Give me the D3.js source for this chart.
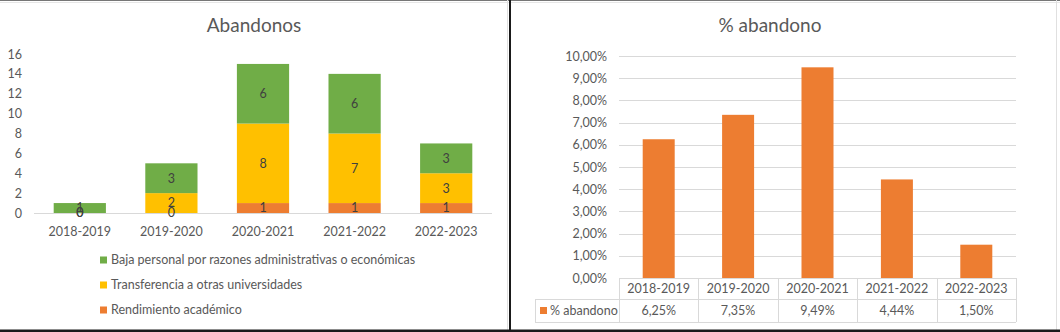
<!DOCTYPE html>
<html><head><meta charset="utf-8">
<script src="https://cdn.jsdelivr.net/npm/d3@7"></script>
<style>
html,body{margin:0;padding:0;background:#fff;}
svg{display:block;font-family:Lato,"Open Sans",sans-serif;}
</style></head>
<body>
<svg id="c" width="1060" height="332"></svg>
<script>
const categories = ["2018-2019","2019-2020","2020-2021","2021-2022","2022-2023"];
const rendimiento = [0,0,1,1,1];
const transferencia = [0,2,8,7,3];
const baja = [1,3,6,6,3];
const seriesNames = ["Rendimiento académico","Transferencia a otras universidades","Baja personal por razones administrativas o económicas"];
const legendOrder = ["Baja personal por razones administrativas o económicas","Transferencia a otras universidades","Rendimiento académico"];
const leftTicks = [0,2,4,6,8,10,12,14,16];
const pctValues = [0.0625,0.0735,0.0949,0.0444,0.0150];
const pctLabels = ["6,25%","7,35%","9,49%","4,44%","1,50%"];
const pctTicks = [0,0.01,0.02,0.03,0.04,0.05,0.06,0.07,0.08,0.09,0.10];

const colors = {"Rendimiento académico":"#ED7D31","Transferencia a otras universidades":"#FFC000","Baja personal por razones administrativas o económicas":"#70AD47"};
const txt = "#595959", lbl = "#404040", grid = "#d9d9d9";
const svg = d3.select("#c");

// frame
svg.append("rect").attr("x",0).attr("y",0).attr("width",1060).attr("height",332).attr("fill","#fff");
svg.append("line").attr("x1",0).attr("x2",1060).attr("y1",0.5).attr("y2",0.5).attr("stroke","#777").attr("stroke-width",1);
svg.append("line").attr("x1",0).attr("x2",1060).attr("y1",2.5).attr("y2",2.5).attr("stroke","#e6e6e6").attr("stroke-width",1);
svg.append("line").attr("x1",507.5).attr("x2",507.5).attr("y1",0).attr("y2",332).attr("stroke","#e0e0e0");
svg.append("line").attr("x1",1056.5).attr("x2",1056.5).attr("y1",0).attr("y2",330).attr("stroke","#e0e0e0");
svg.append("rect").attr("x",509).attr("y",0).attr("width",2).attr("height",332).attr("fill","#1a1a1a");
svg.append("rect").attr("x",0).attr("y",329.5).attr("width",1060).attr("height",2.5).attr("fill","#1a1a1a");

// ===== Left chart =====
const L = svg.append("g");
L.append("text").attr("x",254).attr("y",32).attr("text-anchor","middle").attr("font-size",19).attr("fill",txt).text("Abandonos");
const x1 = d3.scaleBand().domain(categories).range([34,492]).paddingInner(0.43).paddingOuter(0.215);
const y1 = d3.scaleLinear().domain([0,16]).range([213,54]);
const yAx1 = d3.axisLeft(y1).tickValues(leftTicks).tickSize(0).tickPadding(0);
const gy1 = L.append("g").attr("transform","translate(22,0)").call(yAx1);
gy1.select(".domain").remove();
gy1.selectAll("text").attr("font-size",12.5).attr("fill",txt).attr("font-family","Lato,'Open Sans',sans-serif");

const rows = categories.map((c,i)=>({cat:c,"Rendimiento académico":rendimiento[i],"Transferencia a otras universidades":transferencia[i],"Baja personal por razones administrativas o económicas":baja[i]}));
const stack = d3.stack().keys(seriesNames)(rows);
stack.forEach(s=>{
  L.append("g").selectAll("rect").data(s).join("rect")
    .attr("x",d=>x1(d.data.cat)).attr("width",x1.bandwidth())
    .attr("y",d=>y1(d[1])).attr("height",d=>y1(d[0])-y1(d[1]))
    .attr("fill",colors[s.key]);
});
L.append("line").attr("x1",34).attr("x2",492).attr("y1",213.5).attr("y2",213.5).attr("stroke",grid);
stack.forEach(s=>{
  L.append("g").selectAll("text").data(s).join("text")
    .attr("x",d=>x1(d.data.cat)+x1.bandwidth()/2)
    .attr("y",d=>y1((d[0]+d[1])/2))
    .attr("dy","0.35em").attr("text-anchor","middle").attr("font-size",12.5).attr("fill",lbl)
    .text(d=>d.data[s.key]);
});
const xAx1 = d3.axisBottom(x1).tickSize(0).tickPadding(0);
const gx1 = L.append("g").attr("transform","translate(0,227)").call(xAx1);
gx1.select(".domain").remove();
gx1.selectAll("text").attr("font-size",12.5).attr("fill",txt).attr("font-family","Lato,'Open Sans',sans-serif");

const leg = L.append("g");
legendOrder.forEach((n,i)=>{
  const cy = 260 + i*25;
  leg.append("rect").attr("x",100).attr("y",cy-3.5).attr("width",7).attr("height",7).attr("fill",colors[n]);
  leg.append("text").attr("x",111).attr("y",cy).attr("dy","0.35em").attr("font-size",12.5).attr("fill",txt).text(n);
});

// ===== Right chart =====
const R = svg.append("g");
R.append("text").attr("x",770).attr("y",32).attr("text-anchor","middle").attr("font-size",19).attr("fill",txt).text("% abandono");
const x2 = d3.scaleBand().domain(categories).range([619,1016]).paddingInner(0.597).paddingOuter(0.2985);
const y2 = d3.scaleLinear().domain([0,0.10]).range([278,56]);
const fmt = v => d3.format(".2f")(v*100).replace(".",",")+"%";
R.append("g").selectAll("line").data(pctTicks).join("line")
  .attr("x1",619).attr("x2",1016).attr("y1",d=>Math.round(y2(d))+0.5).attr("y2",d=>Math.round(y2(d))+0.5)
  .attr("stroke",grid);
const gy2 = R.append("g").attr("transform","translate(607,0)").call(d3.axisLeft(y2).tickValues(pctTicks).tickFormat(fmt).tickSize(0).tickPadding(0));
gy2.select(".domain").remove();
gy2.selectAll("text").attr("font-size",12.5).attr("fill",txt).attr("font-family","Lato,'Open Sans',sans-serif");
R.append("g").selectAll("rect").data(pctValues).join("rect")
  .attr("x",(d,i)=>x2(categories[i])).attr("width",x2.bandwidth())
  .attr("y",d=>y2(d)).attr("height",d=>y2(0)-y2(d)).attr("fill","#ED7D31");

// data table
const step = x2.step();
const tb = R.append("g");
const t0 = 278, t1 = 299.5, t2 = 322;
for(let i=0;i<=categories.length;i++){
  const xx = Math.round(619 + i*step)+0.5;
  tb.append("line").attr("x1",xx).attr("x2",xx).attr("y1",t0).attr("y2",t2).attr("stroke",grid);
}
tb.append("line").attr("x1",535.5).attr("x2",535.5).attr("y1",t1).attr("y2",t2).attr("stroke",grid);
tb.append("line").attr("x1",535).attr("x2",1016).attr("y1",t1).attr("y2",t1).attr("stroke",grid);
tb.append("line").attr("x1",535).attr("x2",1016).attr("y1",t2+0.5).attr("y2",t2+0.5).attr("stroke",grid);
tb.append("g").selectAll("text").data(categories).join("text")
  .attr("x",d=>x2(d)+x2.bandwidth()/2).attr("y",289).attr("dy","0.35em")
  .attr("text-anchor","middle").attr("font-size",12.5).attr("fill",txt).text(d=>d);
tb.append("g").selectAll("text").data(pctLabels).join("text")
  .attr("x",(d,i)=>x2(categories[i])+x2.bandwidth()/2).attr("y",310.5).attr("dy","0.35em")
  .attr("text-anchor","middle").attr("font-size",12.5).attr("fill",txt).text(d=>d);
tb.append("rect").attr("x",540).attr("y",307).attr("width",7).attr("height",7).attr("fill","#ED7D31");
tb.append("text").attr("x",550).attr("y",310.5).attr("dy","0.35em").attr("font-size",12.5).attr("fill",txt).text("% abandono");
</script>
</body></html>
